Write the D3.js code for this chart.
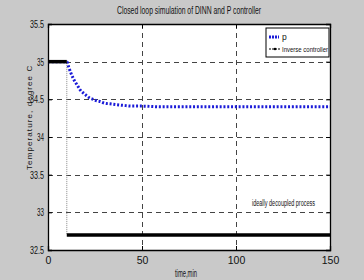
<!DOCTYPE html>
<html><head><meta charset="utf-8">
<script src="https://cdn.jsdelivr.net/npm/d3@7"></script>
<style>
html,body{margin:0;padding:0;background:#c9c9c9;}
svg{display:block;}
text{font-family:"Liberation Sans Narrow","Arial Narrow","Liberation Sans",Arial,sans-serif;fill:#111;}
</style></head><body>
<svg id="c" width="364" height="280"></svg>
<script>
const title = "Closed loop simulation of DINN and P controller";
const xLabel = "time,min";
const yLabel = "Temperature, degree C";
const xTicks = [0, 50, 100, 150];
const yTicks = [32.5, 33, 33.5, 34, 34.5, 35, 35.5];
const seriesNames = ["p", "Inverse controller"];
const annotation = "ideally decoupled process";

// p series (blue dotted)
const pTime  = [0, 5, 10, 11, 12, 13, 14, 15, 16, 17, 18, 19, 20, 22, 24, 26, 28, 30, 33, 36, 40, 45, 50, 60, 70, 80, 90, 100, 110, 120, 130, 140, 150];
const pValue = [35, 35, 35, 34.93, 34.86, 34.8, 34.75, 34.71, 34.67, 34.63, 34.6, 34.58, 34.56, 34.52, 34.5, 34.48, 34.47, 34.45, 34.44, 34.43, 34.42, 34.41, 34.41, 34.4, 34.4, 34.4, 34.4, 34.4, 34.4, 34.4, 34.4, 34.4, 34.4];
// inverse controller series
const invTime  = [0, 10, 10, 150];
const invValue = [35, 35, 32.7, 32.7];

const W = 364, H = 280;
const m = {left: 48, right: 34, top: 24, bottom: 30};
const svg = d3.select("#c");
const x = d3.scaleLinear().domain([0, 150]).range([m.left, W - m.right]);
const y = d3.scaleLinear().domain([32.5, 35.5]).range([H - m.bottom, m.top]);

// plot area
svg.append("rect").attr("x", x(0)).attr("y", y(35.5))
  .attr("width", x(150) - x(0)).attr("height", y(32.5) - y(35.5)).attr("fill", "#fff");

// grid
const grid = svg.append("g").attr("stroke", "#444").attr("stroke-width", 1).attr("stroke-dasharray", "5,4");
xTicks.filter(t => t > 0 && t < 150).forEach(t => {
  grid.append("line").attr("x1", Math.round(x(t)) + 0.5).attr("x2", Math.round(x(t)) + 0.5)
    .attr("y1", y(35.5)).attr("y2", y(32.5));
});
yTicks.filter(t => t > 32.5 && t < 35.5).forEach(t => {
  grid.append("line").attr("y1", Math.round(y(t)) + 0.5).attr("y2", Math.round(y(t)) + 0.5)
    .attr("x1", x(0)).attr("x2", x(150));
});

// axes (ticks inward)
const axB = svg.append("g").attr("transform", `translate(0,${y(32.5)})`)
  .call(d3.axisBottom(x).tickValues(xTicks).tickSize(-4).tickPadding(7).tickFormat(d3.format("d")));
const axL = svg.append("g").attr("transform", `translate(${x(0)},0)`)
  .call(d3.axisLeft(y).tickValues(yTicks).tickSize(-4).tickPadding(4).tickFormat(d => String(d)));
const axT = svg.append("g").attr("transform", `translate(0,${y(35.5)})`)
  .call(d3.axisTop(x).tickValues(xTicks).tickSize(-4).tickFormat(""));
const axR = svg.append("g").attr("transform", `translate(${x(150)},0)`)
  .call(d3.axisRight(y).tickValues(yTicks).tickSize(-4).tickFormat(""));
[axB, axL, axT, axR].forEach(a => {
  a.select(".domain").attr("stroke", "#000").attr("stroke-width", 1.3);
  a.selectAll(".tick line").attr("stroke", "#000");
  a.selectAll("text").attr("font-size", 10.5).attr("fill", "#111")
    .attr("font-family", "'Liberation Sans Narrow','Arial Narrow','Liberation Sans',Arial,sans-serif");
});
axL.selectAll(".tick text").attr("textLength", function(){ return this.textContent.length > 2 ? 14 : 7; })
  .attr("lengthAdjust", "spacingAndGlyphs");

// p series
const pPts = pTime.map((t, i) => [t, pValue[i]]);
svg.append("path").datum(pPts).attr("d", d3.line().x(d => x(d[0])).y(d => y(d[1])).curve(d3.curveMonotoneX))
  .attr("fill", "none").attr("stroke", "#1a1ad8").attr("stroke-width", 3).attr("stroke-dasharray", "2,1.8");

// inverse controller: thin dotted connector + thick flat segments
const invPts = invTime.map((t, i) => [t, invValue[i]]);
const line = d3.line().x(d => x(d[0])).y(d => y(d[1]));
svg.append("path").datum(invPts).attr("d", line).attr("fill", "none")
  .attr("stroke", "#888").attr("stroke-width", 1).attr("stroke-dasharray", "1,1");
for (let i = 1; i < invPts.length; i++) {
  if (invPts[i][1] === invPts[i - 1][1]) {
    svg.append("path").datum([invPts[i - 1], invPts[i]]).attr("d", line)
      .attr("fill", "none").attr("stroke", "#000").attr("stroke-width", 3.5);
  }
}

// legend
const lg = svg.append("g").attr("transform", "translate(266,28)");
lg.append("rect").attr("width", 63).attr("height", 29).attr("fill", "#fff").attr("stroke", "#000").attr("stroke-width", 1);
lg.append("line").attr("x1", 3).attr("x2", 13).attr("y1", 9).attr("y2", 9)
  .attr("stroke", "#1a1ad8").attr("stroke-width", 3).attr("stroke-dasharray", "2,1");
lg.append("text").attr("x", 16).attr("y", 12).attr("font-size", 8.5).text(seriesNames[0]);
lg.append("line").attr("x1", 3).attr("x2", 14).attr("y1", 21).attr("y2", 21)
  .attr("stroke", "#000").attr("stroke-width", 1).attr("stroke-dasharray", "2,1");
lg.append("circle").attr("cx", 9).attr("cy", 21).attr("r", 1.3).attr("fill", "#000");
lg.append("text").attr("x", 16).attr("y", 24).attr("font-size", 8).attr("textLength", 46)
  .attr("lengthAdjust", "spacingAndGlyphs").text(seriesNames[1]);

// annotation
svg.append("text").attr("x", 252).attr("y", 206)
  .attr("font-size", 8.5).attr("textLength", 63).attr("lengthAdjust", "spacingAndGlyphs").text(annotation);

// title
svg.append("text").attr("x", 117).attr("y", 14)
  .attr("font-size", 10.5).attr("textLength", 144).attr("lengthAdjust", "spacingAndGlyphs").text(title);

// x label
svg.append("text").attr("x", 175).attr("y", 277)
  .attr("font-size", 11.5).attr("textLength", 22).attr("lengthAdjust", "spacingAndGlyphs").text(xLabel);

// y label
svg.append("text").attr("transform", "translate(32,170) rotate(-90)")
  .attr("font-size", 8).attr("letter-spacing", 1.1).text(yLabel);
</script>
</body></html>
